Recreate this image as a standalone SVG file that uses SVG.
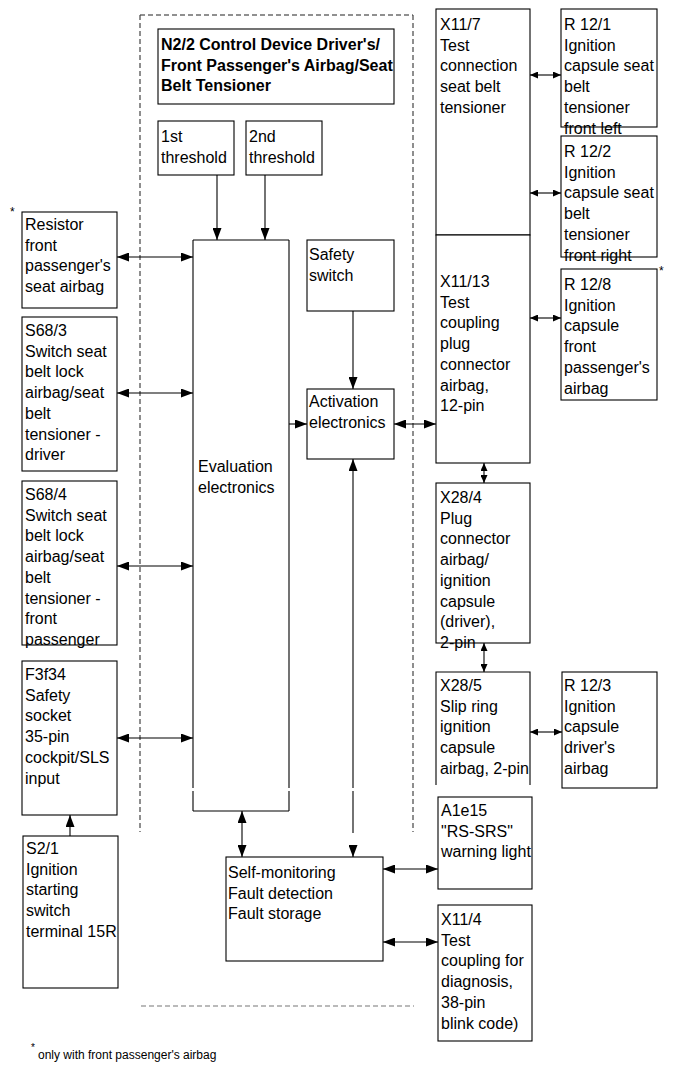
<svg xmlns="http://www.w3.org/2000/svg" width="673" height="1071" viewBox="0 0 673 1071">
<style>
.box{fill:#fff;stroke:#000;stroke-width:1.1}
.ln{fill:none;stroke:#000;stroke-width:1.1}
.t{font-family:"Liberation Sans",Arial,sans-serif;font-size:16px;fill:#000}
.tb{font-family:"Liberation Sans",Arial,sans-serif;font-size:16px;font-weight:bold;fill:#000}
.ast{font-family:"Liberation Sans",Arial,sans-serif;font-size:12px;fill:#000}
.dash{fill:none;stroke:#222;stroke-width:1.2;stroke-dasharray:5,3}
.dashs{fill:none;stroke:#444;stroke-width:1.2;stroke-dasharray:5,3}
.dashg{fill:none;stroke:#777;stroke-width:1.1;stroke-dasharray:5,3}
.big{marker-end:url(#ab)}
.bigd{marker-start:url(#ab);marker-end:url(#ab)}
.sm{marker-start:url(#as);marker-end:url(#as)}
</style>
<defs>
<marker id="ab" viewBox="0 0 12 9" refX="12" refY="4.5" markerWidth="12" markerHeight="9" markerUnits="userSpaceOnUse" orient="auto-start-reverse"><path d="M0,0 L12,4.5 L0,9 z" fill="#000"/></marker>
<marker id="as" viewBox="0 0 8 7" refX="8" refY="3.5" markerWidth="8" markerHeight="7" markerUnits="userSpaceOnUse" orient="auto-start-reverse"><path d="M0,0 L8,3.5 L0,7 z" fill="#000"/></marker>
</defs>
<rect width="673" height="1071" fill="#fff"/>

<g id="container">
<path class="dash" d="M140,15 H413"/>
<path class="dashs" d="M140,15 V832"/>
<path class="dashs" d="M413,15 V832"/>
<path class="dashg" d="M141,1006 H414"/>
</g>

<g id="title">
<rect class="box" x="158" y="29" width="236" height="75"/>
<text class="tb" x="161" y="50">N2/2 Control Device Driver's/<tspan x="161" dy="20.7">Front Passenger's Airbag/Seat</tspan><tspan x="161" dy="20.7">Belt Tensioner</tspan></text>
</g>

<g id="threshold1">
<rect class="box" x="158" y="121" width="76" height="54"/>
<text class="t" x="161" y="142">1st<tspan x="161" dy="20.7">threshold</tspan></text>
</g>
<g id="threshold2">
<rect class="box" x="246" y="121" width="76" height="54"/>
<text class="t" x="249" y="142">2nd<tspan x="249" dy="20.7">threshold</tspan></text>
</g>

<g id="evaluation">
<path class="ln" d="M193,240 H289 M193,240 V788 M193,791 V811 M289,240 V788 M289,791 V811 M193,811 H289"/>
<text class="t" x="198" y="472">Evaluation<tspan x="198" dy="21">electronics</tspan></text>
</g>

<g id="safety-switch">
<rect class="box" x="307" y="240" width="87" height="71"/>
<text class="t" x="309" y="260">Safety<tspan x="309" dy="21">switch</tspan></text>
</g>

<g id="activation">
<rect class="box" x="307" y="389" width="87" height="70"/>
<text class="t" x="309" y="407">Activation<tspan x="309" dy="21">electronics</tspan></text>
</g>

<g id="resistor">
<rect class="box" x="22" y="212" width="95" height="96"/>
<text class="ast" x="10" y="216">*</text>
<text class="t" x="25" y="230">Resistor<tspan x="25" dy="20.7">front</tspan><tspan x="25" dy="20.7">passenger's</tspan><tspan x="25" dy="20.7">seat airbag</tspan></text>
</g>

<g id="s68-3">
<rect class="box" x="22" y="317" width="95" height="154"/>
<text class="t" x="25" y="336">S68/3<tspan x="25" dy="20.7">Switch seat</tspan><tspan x="25" dy="20.7">belt lock</tspan><tspan x="25" dy="20.7">airbag/seat</tspan><tspan x="25" dy="20.7">belt</tspan><tspan x="25" dy="20.7">tensioner -</tspan><tspan x="25" dy="20.7">driver</tspan></text>
</g>

<g id="s68-4">
<rect class="box" x="22" y="481" width="95" height="164"/>
<text class="t" x="25" y="500">S68/4<tspan x="25" dy="20.7">Switch seat</tspan><tspan x="25" dy="20.7">belt lock</tspan><tspan x="25" dy="20.7">airbag/seat</tspan><tspan x="25" dy="20.7">belt</tspan><tspan x="25" dy="20.7">tensioner -</tspan><tspan x="25" dy="20.7">front</tspan><tspan x="25" dy="20.7">passenger</tspan></text>
</g>

<g id="f3f34">
<rect class="box" x="22" y="661" width="95" height="154"/>
<text class="t" x="25" y="680">F3f34<tspan x="25" dy="20.7">Safety</tspan><tspan x="25" dy="20.7">socket</tspan><tspan x="25" dy="20.7">35-pin</tspan><tspan x="25" dy="20.7">cockpit/SLS</tspan><tspan x="25" dy="20.7">input</tspan></text>
</g>

<g id="s2-1">
<rect class="box" x="23" y="836" width="95" height="152"/>
<text class="t" x="26" y="854">S2/1<tspan x="26" dy="20.7">Ignition</tspan><tspan x="26" dy="20.7">starting</tspan><tspan x="26" dy="20.7">switch</tspan><tspan x="26" dy="20.7">terminal 15R</tspan></text>
</g>

<g id="self-monitoring">
<rect class="box" x="226" y="857" width="157" height="104"/>
<text class="t" x="228" y="878">Self-monitoring<tspan x="228" dy="20.7">Fault detection</tspan><tspan x="228" dy="20.7">Fault storage</tspan></text>
</g>

<g id="x11-7">
<rect class="box" x="436" y="9" width="94" height="226"/>
<text class="t" x="440" y="30">X11/7<tspan x="440" dy="20.7">Test</tspan><tspan x="440" dy="20.7">connection</tspan><tspan x="440" dy="20.7">seat belt</tspan><tspan x="440" dy="20.7">tensioner</tspan></text>
</g>

<g id="x11-13">
<rect class="box" x="436" y="235" width="94" height="228"/>
<text class="t" x="440" y="287">X11/13<tspan x="440" dy="20.7">Test</tspan><tspan x="440" dy="20.7">coupling</tspan><tspan x="440" dy="20.7">plug</tspan><tspan x="440" dy="20.7">connector</tspan><tspan x="440" dy="20.7">airbag,</tspan><tspan x="440" dy="20.7">12-pin</tspan></text>
</g>

<g id="r12-1">
<rect class="box" x="561" y="9" width="96" height="118"/>
<text class="t" x="564" y="30">R 12/1<tspan x="564" dy="20.7">Ignition</tspan><tspan x="564" dy="20.7">capsule seat</tspan><tspan x="564" dy="20.7">belt</tspan><tspan x="564" dy="20.7">tensioner</tspan><tspan x="564" dy="20.7">front left</tspan></text>
</g>

<g id="r12-2">
<rect class="box" x="561" y="136" width="96" height="121"/>
<text class="t" x="564" y="157">R 12/2<tspan x="564" dy="20.7">Ignition</tspan><tspan x="564" dy="20.7">capsule seat</tspan><tspan x="564" dy="20.7">belt</tspan><tspan x="564" dy="20.7">tensioner</tspan><tspan x="564" dy="20.7">front right</tspan></text>
</g>

<g id="r12-8">
<rect class="box" x="561" y="269" width="96" height="131"/>
<text class="ast" x="659" y="275">*</text>
<text class="t" x="564" y="290">R 12/8<tspan x="564" dy="20.7">Ignition</tspan><tspan x="564" dy="20.7">capsule</tspan><tspan x="564" dy="20.7">front</tspan><tspan x="564" dy="20.7">passenger's</tspan><tspan x="564" dy="20.7">airbag</tspan></text>
</g>

<g id="x28-4">
<rect class="box" x="436" y="483" width="94" height="160"/>
<text class="t" x="440" y="503">X28/4<tspan x="440" dy="20.7">Plug</tspan><tspan x="440" dy="20.7">connector</tspan><tspan x="440" dy="20.7">airbag/</tspan><tspan x="440" dy="20.7">ignition</tspan><tspan x="440" dy="20.7">capsule</tspan><tspan x="440" dy="20.7">(driver),</tspan><tspan x="440" dy="20.7">2-pin</tspan></text>
</g>

<g id="x28-5">
<path class="ln" d="M436,785 V672 H530 V785"/>
<text class="t" x="440" y="691">X28/5<tspan x="440" dy="20.7">Slip ring</tspan><tspan x="440" dy="20.7">ignition</tspan><tspan x="440" dy="20.7">capsule</tspan><tspan x="440" dy="20.7">airbag, 2-pin</tspan></text>
</g>

<g id="r12-3">
<rect class="box" x="562" y="672" width="95" height="116"/>
<text class="t" x="564" y="691">R 12/3<tspan x="564" dy="20.7">Ignition</tspan><tspan x="564" dy="20.7">capsule</tspan><tspan x="564" dy="20.7">driver's</tspan><tspan x="564" dy="20.7">airbag</tspan></text>
</g>

<g id="a1e15">
<rect class="box" x="438" y="797" width="94" height="92"/>
<text class="t" x="441" y="816">A1e15<tspan x="441" dy="20.7">"RS-SRS"</tspan><tspan x="441" dy="20.7">warning light</tspan></text>
</g>

<g id="x11-4">
<rect class="box" x="438" y="905" width="94" height="136"/>
<text class="t" x="441" y="925">X11/4<tspan x="441" dy="20.7">Test</tspan><tspan x="441" dy="20.7">coupling for</tspan><tspan x="441" dy="20.7">diagnosis,</tspan><tspan x="441" dy="20.7">38-pin</tspan><tspan x="441" dy="20.7">blink code)</tspan></text>
</g>

<g id="footnote">
<text class="ast" x="31" y="1051" style="font-size:10px">*</text>
<text class="ast" x="38" y="1059">only with front passenger's airbag</text>
</g>

<g id="connectors">
<line class="ln big" x1="217" y1="175" x2="217" y2="240"/>
<line class="ln big" x1="265" y1="175" x2="265" y2="240"/>
<line class="ln bigd" x1="117" y1="257" x2="193" y2="257"/>
<line class="ln bigd" x1="117" y1="393" x2="193" y2="393"/>
<line class="ln bigd" x1="117" y1="566" x2="193" y2="566"/>
<line class="ln bigd" x1="117" y1="738" x2="193" y2="738"/>
<line class="ln big" x1="70" y1="836" x2="70" y2="815"/>
<line class="ln big" x1="289" y1="424" x2="307" y2="424"/>
<line class="ln big" x1="353" y1="311" x2="353" y2="389"/>
<line class="ln bigd" x1="394" y1="424" x2="436" y2="424"/>
<line class="ln bigd" x1="242" y1="811" x2="242" y2="857"/>
<line class="ln big" x1="353" y1="788" x2="353" y2="459"/>
<line class="ln" x1="353" y1="791" x2="353" y2="833"/>
<line class="ln big" x1="353" y1="845" x2="353" y2="857"/>
<line class="ln sm" x1="530" y1="75" x2="561" y2="75"/>
<line class="ln sm" x1="530" y1="193" x2="561" y2="193"/>
<line class="ln sm" x1="530" y1="318" x2="561" y2="318"/>
<line class="ln sm" x1="484" y1="463" x2="484" y2="483"/>
<line class="ln sm" x1="484" y1="643" x2="484" y2="672"/>
<line class="ln sm" x1="530" y1="732" x2="562" y2="732"/>
<line class="ln bigd" x1="383" y1="869" x2="438" y2="869"/>
<line class="ln bigd" x1="383" y1="942" x2="438" y2="942"/>
</g>
</svg>
